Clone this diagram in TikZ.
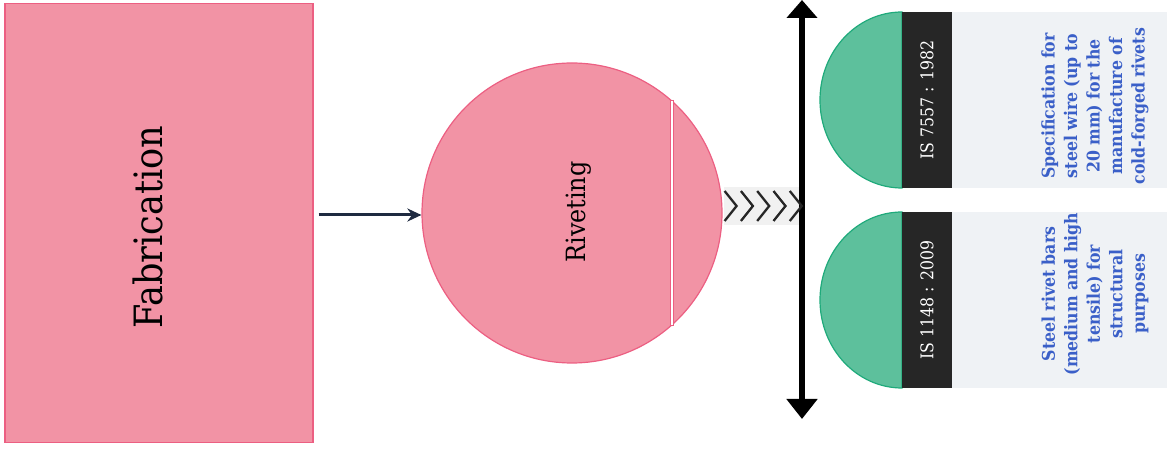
\documentclass[tikz,border=0pt]{standalone}
\usepackage{fontspec}
\setmainfont{DejaVu Serif}
\newfontfamily\cserif{DejaVuSerifCondensed}[Extension=.ttf, BoldFont=DejaVuSerifCondensed-Bold]
\usetikzlibrary{calc,arrows.meta}
\definecolor{pinkfill}{HTML}{F293A5}
\definecolor{pinkline}{HTML}{EC5F82}
\definecolor{greenfill}{HTML}{5DC09C}
\definecolor{greenline}{HTML}{1FAA7B}
\definecolor{barblack}{HTML}{262626}
\definecolor{graybox}{HTML}{EFF2F5}
\definecolor{bluetext}{HTML}{3A5FC8}
\definecolor{navy}{HTML}{1E2A40}
\definecolor{chevbg}{HTML}{F1F1F1}
\tikzset{
  x=1pt, y=-1pt,
  pinkshape/.style={draw=pinkline, line width=1.2pt, fill=pinkfill},
  bartag/.style={rotate=90, minimum width=176pt, minimum height=50pt, fill=barblack, text=white, inner sep=0pt, font=\cserif\fontsize{17.5}{20}\selectfont},
  descbox/.style={rotate=90, minimum width=176pt, minimum height=215pt, fill=graybox, inner sep=0pt},
  desctext/.style={rotate=90, text=bluetext, inner sep=0pt, align=center, font=\cserif\bfseries\fontsize{17.5}{22.5}\selectfont},
  halfdisc/.style={fill=greenfill, draw=greenline, line width=1.2pt},
  chev/.style={draw=black!85, line width=2.3pt},
}
\begin{document}
\begin{tikzpicture}
\useasboundingbox (0,0) rectangle (1168,454);
% Fabrication box
\node[pinkshape, minimum width=308pt, minimum height=439pt, inner sep=0pt] (fab) at (159,223) {};
\node[rotate=90, font=\cserif\fontsize{39}{44}\selectfont, inner sep=0pt] (fabtxt) at (148,227) {Fabrication};
% Riveting circle
\node[pinkshape, circle, minimum size=300pt, inner sep=0pt] (riv) at (572,213) {};
\draw[pinkline, line width=3.2pt] (672,100) -- (672,326);
\draw[white, line width=1.4pt] (672,101) -- (672,325);
\node[rotate=90, font=\cserif\fontsize{26.5}{30}\selectfont, inner sep=0pt] (rivtxt) at (579,212) {Riveting};
% arrow fab -> riv
\coordinate (arst) at (fab.east |- riv.west);
\draw[navy, line width=3pt, -{Stealth[length=14pt, width=13pt]}] ([xshift=5pt, yshift=-2pt]arst) -- ([yshift=-2pt]riv.west);
% vertical double arrow
\coordinate (axtop) at (802,0);
\coordinate (axbot) at (802,419);
\draw[line width=5.5pt, {Triangle[length=18pt, width=30pt]}-{Triangle[length=20pt, width=30pt]}] (axtop) -- (axbot);
% chevrons between circle and axis
\fill[chevbg] ($(riv.east)+(1,-26)$) rectangle ($(riv.east)+(76,12)$);
\foreach \i in {0,...,4}
  \draw[chev] ($(riv.east)+(2+16.3*\i,-22)$) -- ++(12,15) -- ++(-12,15);
% top standard
\path[halfdisc] (902,12) arc[start angle=270, end angle=90, x radius=82, y radius=88] -- cycle;
\node[bartag] (tag1) at (927,100) {IS 7557 : 1982};
\node[descbox] (desc1) at (1059.5,100) {};
\node[desctext] (desc1txt) at (1095,106) {Specification for\\steel wire (up to\\20 mm) for the\\manufacture of\\cold-forged rivets};
% bottom standard
\path[halfdisc] (902,212) arc[start angle=270, end angle=90, x radius=82, y radius=88] -- cycle;
\node[bartag] (tag2) at (927,300) {IS 1148 : 2009};
\node[descbox] (desc2) at (1059.5,300) {};
\node[desctext] (desc2txt) at (1095,294) {Steel rivet bars\\(medium and high\\tensile) for\\structural\\purposes};
\end{tikzpicture}
\end{document}
